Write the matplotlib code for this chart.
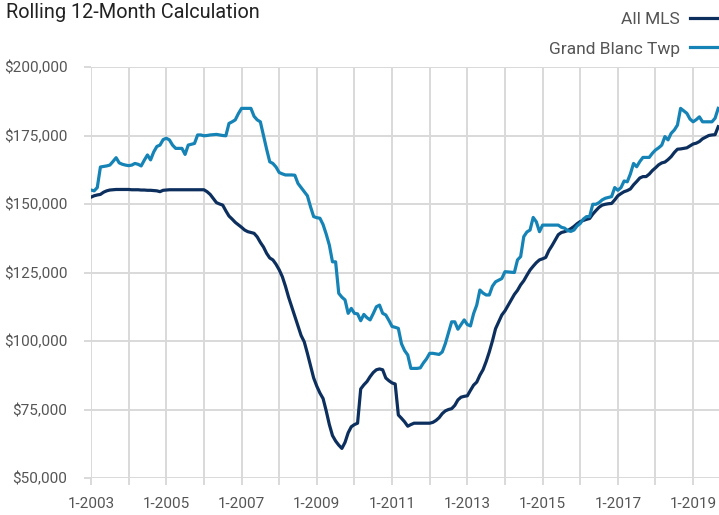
import matplotlib
matplotlib.use("Agg")
import matplotlib.pyplot as plt
import numpy as np
from matplotlib.ticker import FuncFormatter, MultipleLocator

plt.rcParams["font.family"] = ["Roboto", "DejaVu Sans"]

# monthly rolling 12-month median price, in thousands of dollars, Jan 2003 onward
all_mls_k = (
    [152.5, 153.0, 153.3, 153.5, 154.3, 154.8, 155.1, 155.2, 155.3, 155.3, 155.3, 155.3]  # 2003
    + [155.3, 155.2, 155.2, 155.2, 155.1, 155.1, 155.0, 155.0, 154.9, 154.8, 154.5, 155.0]  # 2004
    + [155.1, 155.2, 155.2, 155.2, 155.2, 155.2, 155.2, 155.2, 155.2, 155.2, 155.2, 155.2]  # 2005
    + [155.2, 154.5, 153.5, 152.0, 150.5, 150.0, 149.6, 147.5, 145.6, 144.5, 143.3, 142.4]  # 2006
    + [141.5, 140.5, 139.9, 139.6, 139.3, 138.0, 136.0, 134.3, 132.0, 130.3, 129.6, 128.0]  # 2007
    + [126.0, 123.5, 120.0, 116.0, 112.5, 109.0, 105.5, 102.0, 99.7, 95.5, 91.0, 86.5]  # 2008
    + [83.5, 81.0, 79.0, 74.5, 69.5, 65.5, 63.5, 62.0, 60.8, 63.0, 66.5, 68.7]  # 2009
    + [69.5, 70.0, 82.5, 84.0, 85.2, 87.0, 88.5, 89.5, 89.8, 89.5, 86.5, 85.5]  # 2010
    + [84.7, 84.3, 73.0, 71.8, 70.5, 68.9, 69.5, 70.0, 70.0, 70.0, 70.0, 70.0]  # 2011
    + [70.0, 70.3, 71.0, 72.0, 73.5, 74.5, 75.0, 75.3, 76.5, 78.5, 79.5, 79.8]  # 2012
    + [80.0, 82.0, 83.9, 85.0, 87.5, 89.5, 92.5, 96.0, 100.0, 104.5, 107.0, 109.5]  # 2013
    + [111.0, 113.0, 115.0, 117.0, 118.5, 120.5, 122.0, 124.0, 125.9, 127.3, 128.6, 129.6]  # 2014
    + [130.0, 130.5, 133.0, 134.8, 136.8, 138.8, 139.6, 139.9, 140.3, 141.0, 141.8, 142.8]  # 2015
    + [143.6, 144.0, 144.4, 144.7, 146.3, 147.6, 148.8, 149.6, 149.9, 150.1, 150.2, 151.5]  # 2016
    + [153.0, 153.8, 154.5, 154.9, 155.5, 157.0, 158.2, 159.5, 160.0, 160.0, 160.9, 162.2]  # 2017
    + [163.2, 164.3, 165.0, 165.3, 166.2, 167.3, 168.8, 170.0, 170.1, 170.3, 170.5, 171.2]  # 2018
    + [171.9, 172.2, 172.8, 173.8, 174.4, 175.0, 175.2, 175.3, 178.2]  # 2019
)
grand_blanc_k = (
    [155.1, 154.8, 156.0, 163.5, 163.7, 163.9, 164.2, 165.5, 166.9, 165.0, 164.5, 164.2]  # 2003
    + [164.0, 164.2, 164.8, 164.5, 163.9, 166.0, 167.9, 166.1, 169.0, 171.0, 171.5, 173.5]  # 2004
    + [174.0, 173.4, 171.5, 170.3, 170.3, 170.3, 168.1, 171.5, 171.8, 172.1, 175.2, 175.2]  # 2005
    + [174.9, 175.0, 175.2, 175.3, 175.4, 175.2, 175.0, 174.9, 179.4, 180.0, 180.7, 183.0]  # 2006
    + [184.9, 184.9, 184.9, 184.9, 182.0, 180.7, 180.0, 175.0, 170.0, 165.4, 164.8, 163.5]  # 2007
    + [161.5, 161.0, 160.6, 160.6, 160.6, 160.5, 157.5, 156.0, 154.5, 153.0, 149.0, 145.4]  # 2008
    + [145.0, 144.8, 142.5, 139.0, 135.0, 128.9, 128.9, 117.4, 116.0, 115.0, 110.1, 111.9]  # 2009
    + [110.1, 109.9, 107.4, 109.7, 108.5, 107.7, 110.0, 112.5, 113.1, 110.1, 109.5, 107.5]  # 2010
    + [105.3, 105.0, 104.6, 99.0, 96.5, 94.9, 90.0, 90.0, 90.0, 90.2, 92.0, 93.5]  # 2011
    + [95.5, 95.5, 95.3, 95.1, 96.0, 99.1, 103.0, 107.0, 107.0, 104.3, 106.0, 107.7]  # 2012
    + [106.0, 105.5, 110.0, 113.1, 118.6, 117.5, 116.8, 116.8, 120.0, 121.6, 122.2, 122.8]  # 2013
    + [125.3, 125.2, 125.1, 125.0, 129.6, 130.8, 138.1, 139.8, 140.5, 145.1, 143.5, 139.9]  # 2014
    + [142.3, 142.3, 142.3, 142.3, 142.3, 142.3, 141.5, 141.2, 140.3, 140.0, 140.5, 142.0]  # 2015
    + [142.9, 144.5, 145.4, 145.4, 149.9, 149.9, 150.5, 151.5, 152.1, 152.4, 152.7, 156.0]  # 2016
    + [155.0, 156.0, 158.4, 158.1, 161.0, 164.8, 163.6, 165.5, 167.0, 167.0, 167.0, 168.5]  # 2017
    + [169.7, 170.5, 171.5, 174.6, 173.4, 175.8, 177.0, 178.8, 184.9, 184.0, 183.1, 181.0]  # 2018
    + [180.0, 180.8, 181.8, 180.0, 180.0, 180.0, 180.0, 181.3, 184.9]  # 2019
)
series_names = ["All MLS", "Grand Blanc Twp"]
series_colors = ["#0c2f5e", "#1583b5"]
first_year = 2003
tick_years = list(range(2003, 2020, 2))

months = np.arange(len(all_mls_k))

fig = plt.figure(figsize=(7.19, 5.15), dpi=100)
ax = fig.add_axes([91 / 719, 1 - 478 / 515, 1 - 91 / 719, 411 / 515])

for vals, name, col in zip([all_mls_k, grand_blanc_k], series_names, series_colors):
    ax.plot(months, np.array(vals) * 1000, color=col, lw=2.3, label=name,
            solid_joinstyle="round")

ax.set_ylim(50000, 200000)
ax.set_xlim(0, months[-1] + 0.25)
ax.yaxis.set_major_locator(MultipleLocator(25000))
ax.yaxis.set_major_formatter(FuncFormatter(lambda v, _: f"${v:,.0f}"))
ax.xaxis.set_major_locator(MultipleLocator(12))


def year_label(v, _):
    yr = first_year + int(round(v / 12))
    return f"1-{yr}" if yr in tick_years else ""


ax.xaxis.set_major_formatter(FuncFormatter(year_label))

grid_col = "#d9d9d9"
ax.grid(True, color=grid_col, lw=1.4)
ax.set_axisbelow(True)
for s in ax.spines.values():
    s.set_visible(False)
ax.tick_params(axis="both", colors=grid_col, length=5, width=1.4, labelcolor="#555555",
               labelsize=11)
ax.tick_params(axis="y", pad=12)
ax.tick_params(axis="x", pad=9)

fig.text(6 / 719, 1 - 12 / 515, "Rolling 12-Month Calculation", fontsize=14.3, color="#222222",
         va="center", ha="left")

leg = fig.legend(loc="upper right", bbox_to_anchor=(1.035, 1.008), frameon=False,
                 markerfirst=False, fontsize=12.5, labelcolor="#555555", handlelength=2.2,
                 handletextpad=0.6, labelspacing=0.85)

fig.savefig("out.png", dpi=100)
